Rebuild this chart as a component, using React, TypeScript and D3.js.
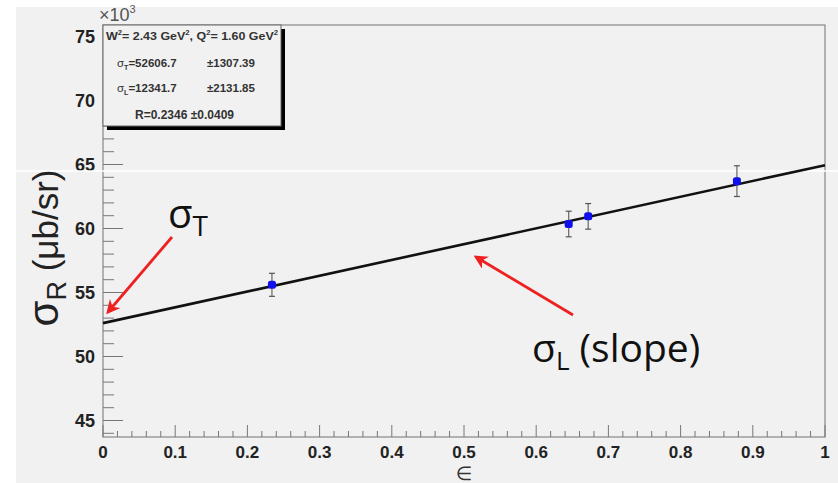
import { useEffect, useRef } from 'react';
import * as d3 from 'd3';

// measured points: epsilon, sigma_R (x10^3 ub/sr), error
const epsilon = [0.234, 0.645, 0.672, 0.878];
const sigmaR = [55.6, 60.35, 60.95, 63.7];
const sigmaErr = [0.9, 1.0, 1.0, 1.2];

// fit result (x10^3)
const fitT = 52.6067;
const fitL = 12.3417;
const fitEps = [0, 1];

const xTicks = [0, 0.1, 0.2, 0.3, 0.4, 0.5, 0.6, 0.7, 0.8, 0.9, 1];
const yTicks = [45, 50, 55, 60, 65, 70, 75];

const statLines = [
  'σT=52606.7', '±1307.39',
  'σL=12341.7', '±2131.85',
];

const App = () => {
  const svgRef = useRef(null);

  useEffect(() => {
    draw();
  }, []);

  const draw = () => {
    const width = 838;
    const height = 483;
    const svg = d3.select(svgRef.current);
    svg.selectAll('*').remove();

    const left = 103, right = 825, top = 25, bottom = 437;
    const x = d3.scaleLinear().domain([0, 1]).range([left, right]);
    const y = d3.scaleLinear().domain([75, 45]).range([36.5, 420.5]);

    svg.append('rect').attr('width', width).attr('height', height).attr('fill', '#fff');
    svg.append('rect').attr('x', 16).attr('y', 7).attr('width', width - 16).attr('height', height - 7).attr('fill', '#f1f1f1');

    // frame
    svg.append('rect')
      .attr('x', left).attr('y', top).attr('width', right - left).attr('height', bottom - top)
      .attr('fill', 'none').attr('stroke', '#888').attr('stroke-width', 1.2);

    // y ticks
    const yMinor = d3.range(44, 76, 1);
    svg.selectAll('.ymin').data(yMinor).join('line')
      .attr('x1', left).attr('x2', d => left + (d % 5 === 0 ? 20 : 11))
      .attr('y1', d => y(d)).attr('y2', d => y(d))
      .attr('stroke', '#777').attr('stroke-width', 1);
    svg.selectAll('.ylab').data(yTicks).join('text')
      .attr('x', 95).attr('y', d => y(d) + 6.5)
      .attr('text-anchor', 'end')
      .attr('font-family', 'Liberation Sans, Arial, sans-serif')
      .attr('font-weight', 'bold').attr('font-size', 18).attr('fill', '#222')
      .text(d => d);

    // x ticks
    const xMinor = d3.range(0, 51).map(i => i / 50);
    svg.selectAll('.xmin').data(xMinor).join('line')
      .attr('x1', d => x(d)).attr('x2', d => x(d))
      .attr('y1', bottom).attr('y2', (d, i) => bottom - (i % 5 === 0 ? 12 : 6))
      .attr('stroke', '#777').attr('stroke-width', 1);
    svg.selectAll('.xlab').data(xTicks).join('text')
      .attr('x', d => x(d)).attr('y', 458)
      .attr('text-anchor', 'middle')
      .attr('font-family', 'Liberation Sans, Arial, sans-serif')
      .attr('font-weight', 'bold').attr('font-size', 17).attr('fill', '#222')
      .text(d => d);

    svg.append('text').attr('x', x(0.5)).attr('y', 480).attr('text-anchor', 'middle')
      .attr('font-family', 'DejaVu Sans, sans-serif').attr('font-size', 19).attr('fill', '#333')
      .text('∈');

    // white scan line
    svg.append('line').attr('x1', 16).attr('x2', width).attr('y1', 171).attr('y2', 171)
      .attr('stroke', '#fff').attr('stroke-width', 1.5);

    // fit line
    const line = d3.line<number>().x(d => x(d)).y(d => y(fitT + fitL * d));
    svg.append('path').attr('d', line(fitEps)).attr('fill', 'none')
      .attr('stroke', '#111').attr('stroke-width', 2.6);

    // error bars
    const pts = epsilon.map((e, i) => ({ e, v: sigmaR[i], err: sigmaErr[i] }));
    const eb = svg.selectAll('.eb').data(pts).join('g');
    eb.append('line')
      .attr('x1', d => x(d.e)).attr('x2', d => x(d.e))
      .attr('y1', d => y(d.v + d.err)).attr('y2', d => y(d.v - d.err))
      .attr('stroke', '#666').attr('stroke-width', 1.2);
    [1, -1].forEach(s => {
      eb.append('line')
        .attr('x1', d => x(d.e) - 3).attr('x2', d => x(d.e) + 3)
        .attr('y1', d => y(d.v + s * d.err)).attr('y2', d => y(d.v + s * d.err))
        .attr('stroke', '#555').attr('stroke-width', 1.2);
    });
    eb.append('rect')
      .attr('x', d => x(d.e) - 4).attr('y', d => y(d.v) - 4)
      .attr('width', 8).attr('height', 8).attr('rx', 2.5)
      .attr('fill', '#1010ee');

    // stats box
    const bx = 103, by = 25, bw = 178, bh = 101;
    svg.append('rect').attr('x', bx + 4).attr('y', by + 4).attr('width', bw).attr('height', bh).attr('fill', '#000');
    svg.append('rect').attr('x', bx).attr('y', by).attr('width', bw).attr('height', bh)
      .attr('fill', '#f1f1f1').attr('stroke', '#666').attr('stroke-width', 1);
    const st = svg.append('g')
      .attr('font-family', 'Liberation Sans, Arial, sans-serif')
      .attr('font-weight', 'bold').attr('fill', '#333');
    const w = st.append('text').attr('x', 106).attr('y', 40).attr('font-size', 11.5)
      .attr('textLength', 172).attr('lengthAdjust', 'spacingAndGlyphs');
    w.append('tspan').text('W');
    w.append('tspan').attr('dy', -5).attr('font-size', 7).text('2');
    w.append('tspan').attr('dy', 5).text('= 2.43 GeV');
    w.append('tspan').attr('dy', -5).attr('font-size', 7).text('2');
    w.append('tspan').attr('dy', 5).text(', Q');
    w.append('tspan').attr('dy', -5).attr('font-size', 7).text('2');
    w.append('tspan').attr('dy', 5).text('= 1.60 GeV');
    w.append('tspan').attr('dy', -5).attr('font-size', 7).text('2');

    const statRow = (txt, sx, sy) => {
      const t = st.append('text').attr('x', sx).attr('y', sy).attr('font-size', 11.5);
      if (txt.startsWith('σ')) {
        t.append('tspan').attr('font-weight', 'normal').text('σ');
        t.append('tspan').attr('dy', 3).attr('font-size', 7).text(txt[1]);
        t.append('tspan').attr('dy', -3).text(txt.slice(2));
      } else {
        t.text(txt);
      }
    };
    statRow(statLines[0], 117, 67);
    statRow(statLines[1], 207, 67);
    statRow(statLines[2], 117, 92);
    statRow(statLines[3], 207, 92);
    st.append('text').attr('x', 135).attr('y', 119).attr('font-size', 12).text('R=0.2346 ±0.0409');

    // x10^3
    const ex = svg.append('text').attr('x', 99).attr('y', 21)
      .attr('font-family', 'Liberation Sans, Arial, sans-serif').attr('font-size', 18).attr('fill', '#555');
    ex.append('tspan').text('×10');
    ex.append('tspan').attr('dy', -8).attr('font-size', 11).text('3');

    // y title
    const yt = svg.append('text').attr('transform', 'translate(58,248) rotate(-90)')
      .attr('text-anchor', 'middle')
      .attr('font-family', 'Liberation Sans, Arial, sans-serif')
      .attr('font-size', 35).attr('fill', '#222');
    yt.append('tspan').attr('font-size', 42).text('σ');
    yt.append('tspan').attr('dy', 8).attr('font-size', 27).text('R');
    yt.append('tspan').attr('dy', -8).text(' (μb/sr)');

    // arrows
    const defs = svg.append('defs');
    defs.append('marker').attr('id', 'ah').attr('viewBox', '0 0 10 10')
      .attr('refX', 8).attr('refY', 5).attr('markerWidth', 5).attr('markerHeight', 5)
      .attr('orient', 'auto-start-reverse')
      .append('path').attr('d', 'M0,0 L10,5 L0,10 L3,5 Z').attr('fill', '#ee2020');
    const arrows = [
      [172, 237, 108, 312],
      [573, 315, 476, 257],
    ];
    svg.selectAll('.arr').data(arrows).join('line')
      .attr('x1', d => d[0]).attr('y1', d => d[1]).attr('x2', d => d[2]).attr('y2', d => d[3])
      .attr('stroke', '#ee2020').attr('stroke-width', 2.8).attr('marker-end', 'url(#ah)');

    const lab = svg.append('g').attr('font-family', 'Open Sans, sans-serif').attr('fill', '#111');
    const t1 = lab.append('text').attr('x', 168).attr('y', 228).attr('font-size', 40);
    t1.append('tspan').text('σ');
    t1.append('tspan').attr('dy', 8).attr('font-size', 28).text('T');
    const t2 = lab.append('text').attr('x', 532).attr('y', 362).attr('font-size', 39);
    t2.append('tspan').text('σ');
    t2.append('tspan').attr('dy', 8).attr('font-size', 26).text('L');
    t2.append('tspan').attr('dy', -8).text(' (slope)');
  };

  return <svg ref={svgRef} width={838} height={483} style={{ position: 'absolute', left: 0, top: 0 }} />;
};

export default App;
